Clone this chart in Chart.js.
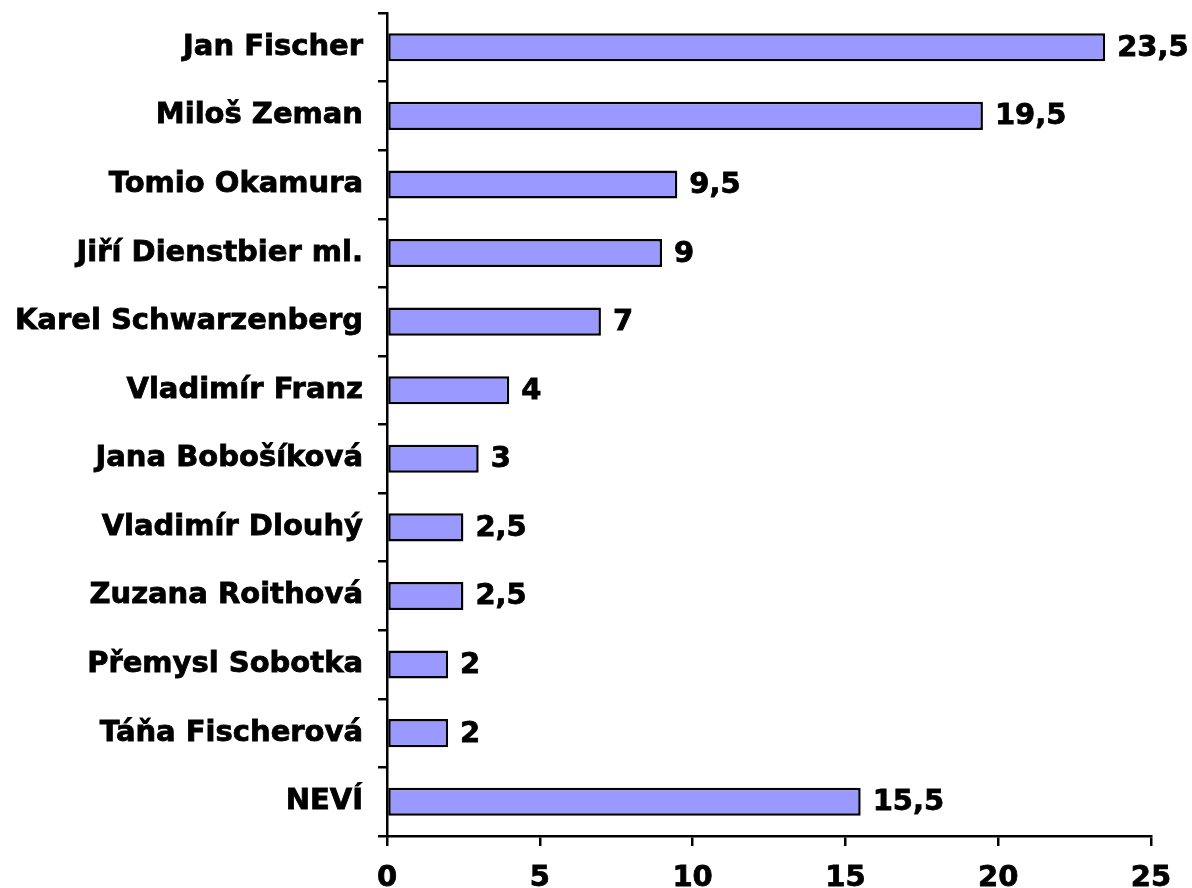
<html>
<head>
<meta charset="utf-8">
<script src="https://cdn.jsdelivr.net/npm/chart.js@4"></script>
<style>
	body { margin: 0; background: #fff; }
	#box { width: 1192px; height: 888px; }
</style>
</head>
<body>
<div id="box"><canvas id="myChart"></canvas></div>
<script>
	var candidates = ['Jan Fischer', 'Miloš Zeman', 'Tomio Okamura', 'Jiří Dienstbier ml.', 'Karel Schwarzenberg',
		'Vladimír Franz', 'Jana Bobošíková', 'Vladimír Dlouhý', 'Zuzana Roithová', 'Přemysl Sobotka',
		'Táňa Fischerová', 'NEVÍ'];
	var percents = [23.5, 19.5, 9.5, 9, 7, 4, 3, 2.5, 2.5, 2, 2, 15.5];
	var xTicks = [0, 5, 10, 15, 20, 25];

	var FONT = 'DejaVu Sans';

	// writes the value at the end of each bar, with a decimal comma
	var valueLabels = {
		id: 'valueLabels',
		afterDatasetsDraw: function(chart) {
			var ctx = chart.ctx;
			var meta = chart.getDatasetMeta(0);
			ctx.save();
			ctx.font = 'bold 29px ' + FONT;
			ctx.fillStyle = '#000';
			ctx.strokeStyle = '#000';
			ctx.lineWidth = 0.8;
			ctx.textAlign = 'left';
			ctx.textBaseline = 'middle';
			for (var i = 0; i < meta.data.length; ++i) {
				var bar = meta.data[i];
				var txt = String(percents[i]).replace('.', ',');
				ctx.strokeText(txt, bar.x + 12, bar.y + 1);
				ctx.fillText(txt, bar.x + 12, bar.y + 1);
			}
			ctx.restore();
		}
	};

	var ctx = document.getElementById('myChart').getContext('2d');
	var chart = new Chart(ctx, {
		type: 'bar',
		data: {
			labels: candidates,
			datasets: [{
				data: percents,
				backgroundColor: '#9999ff',
				borderColor: '#000',
				borderWidth: 2.5,
				borderSkipped: false,
				categoryPercentage: 1,
				barPercentage: 0.41
			}]
		},
		options: {
			indexAxis: 'y',
			responsive: true,
			maintainAspectRatio: false,
			animation: false,
			layout: { padding: { top: 13, right: 41, left: 0, bottom: 0 } },
			plugins: { legend: { display: false }, tooltip: { enabled: false } },
			scales: {
				x: {
					min: 0,
					max: 25,
					afterBuildTicks: function(scale) {
						scale.ticks = xTicks.map(function(v) { return { value: v }; });
					},
					afterFit: function(scale) { scale.height = 52; },
					border: { color: '#000', width: 2.5 },
					grid: { drawOnChartArea: false, drawTicks: true, tickLength: 10, color: '#000', lineWidth: 2.5 },
					ticks: { color: '#000', padding: 15, maxRotation: 0, textStrokeColor: '#000', textStrokeWidth: 0.8,
						font: { family: FONT, size: 29, weight: 'bold' } }
				},
				y: {
					afterFit: function(scale) {
						scale.width = 387;
						scale.paddingTop = 0;
						scale.paddingBottom = 0;
					},
					border: { color: '#000', width: 2.5 },
					grid: { drawOnChartArea: false, drawTicks: true, tickLength: 9, color: '#000', lineWidth: 2.5, offset: true },
					ticks: { color: '#000', padding: 15, autoSkip: false, textStrokeColor: '#000', textStrokeWidth: 0.8,
						font: { family: FONT, size: 29, weight: 'bold' } }
				}
			}
		},
		plugins: [valueLabels]
	});
</script>
</body>
</html>
